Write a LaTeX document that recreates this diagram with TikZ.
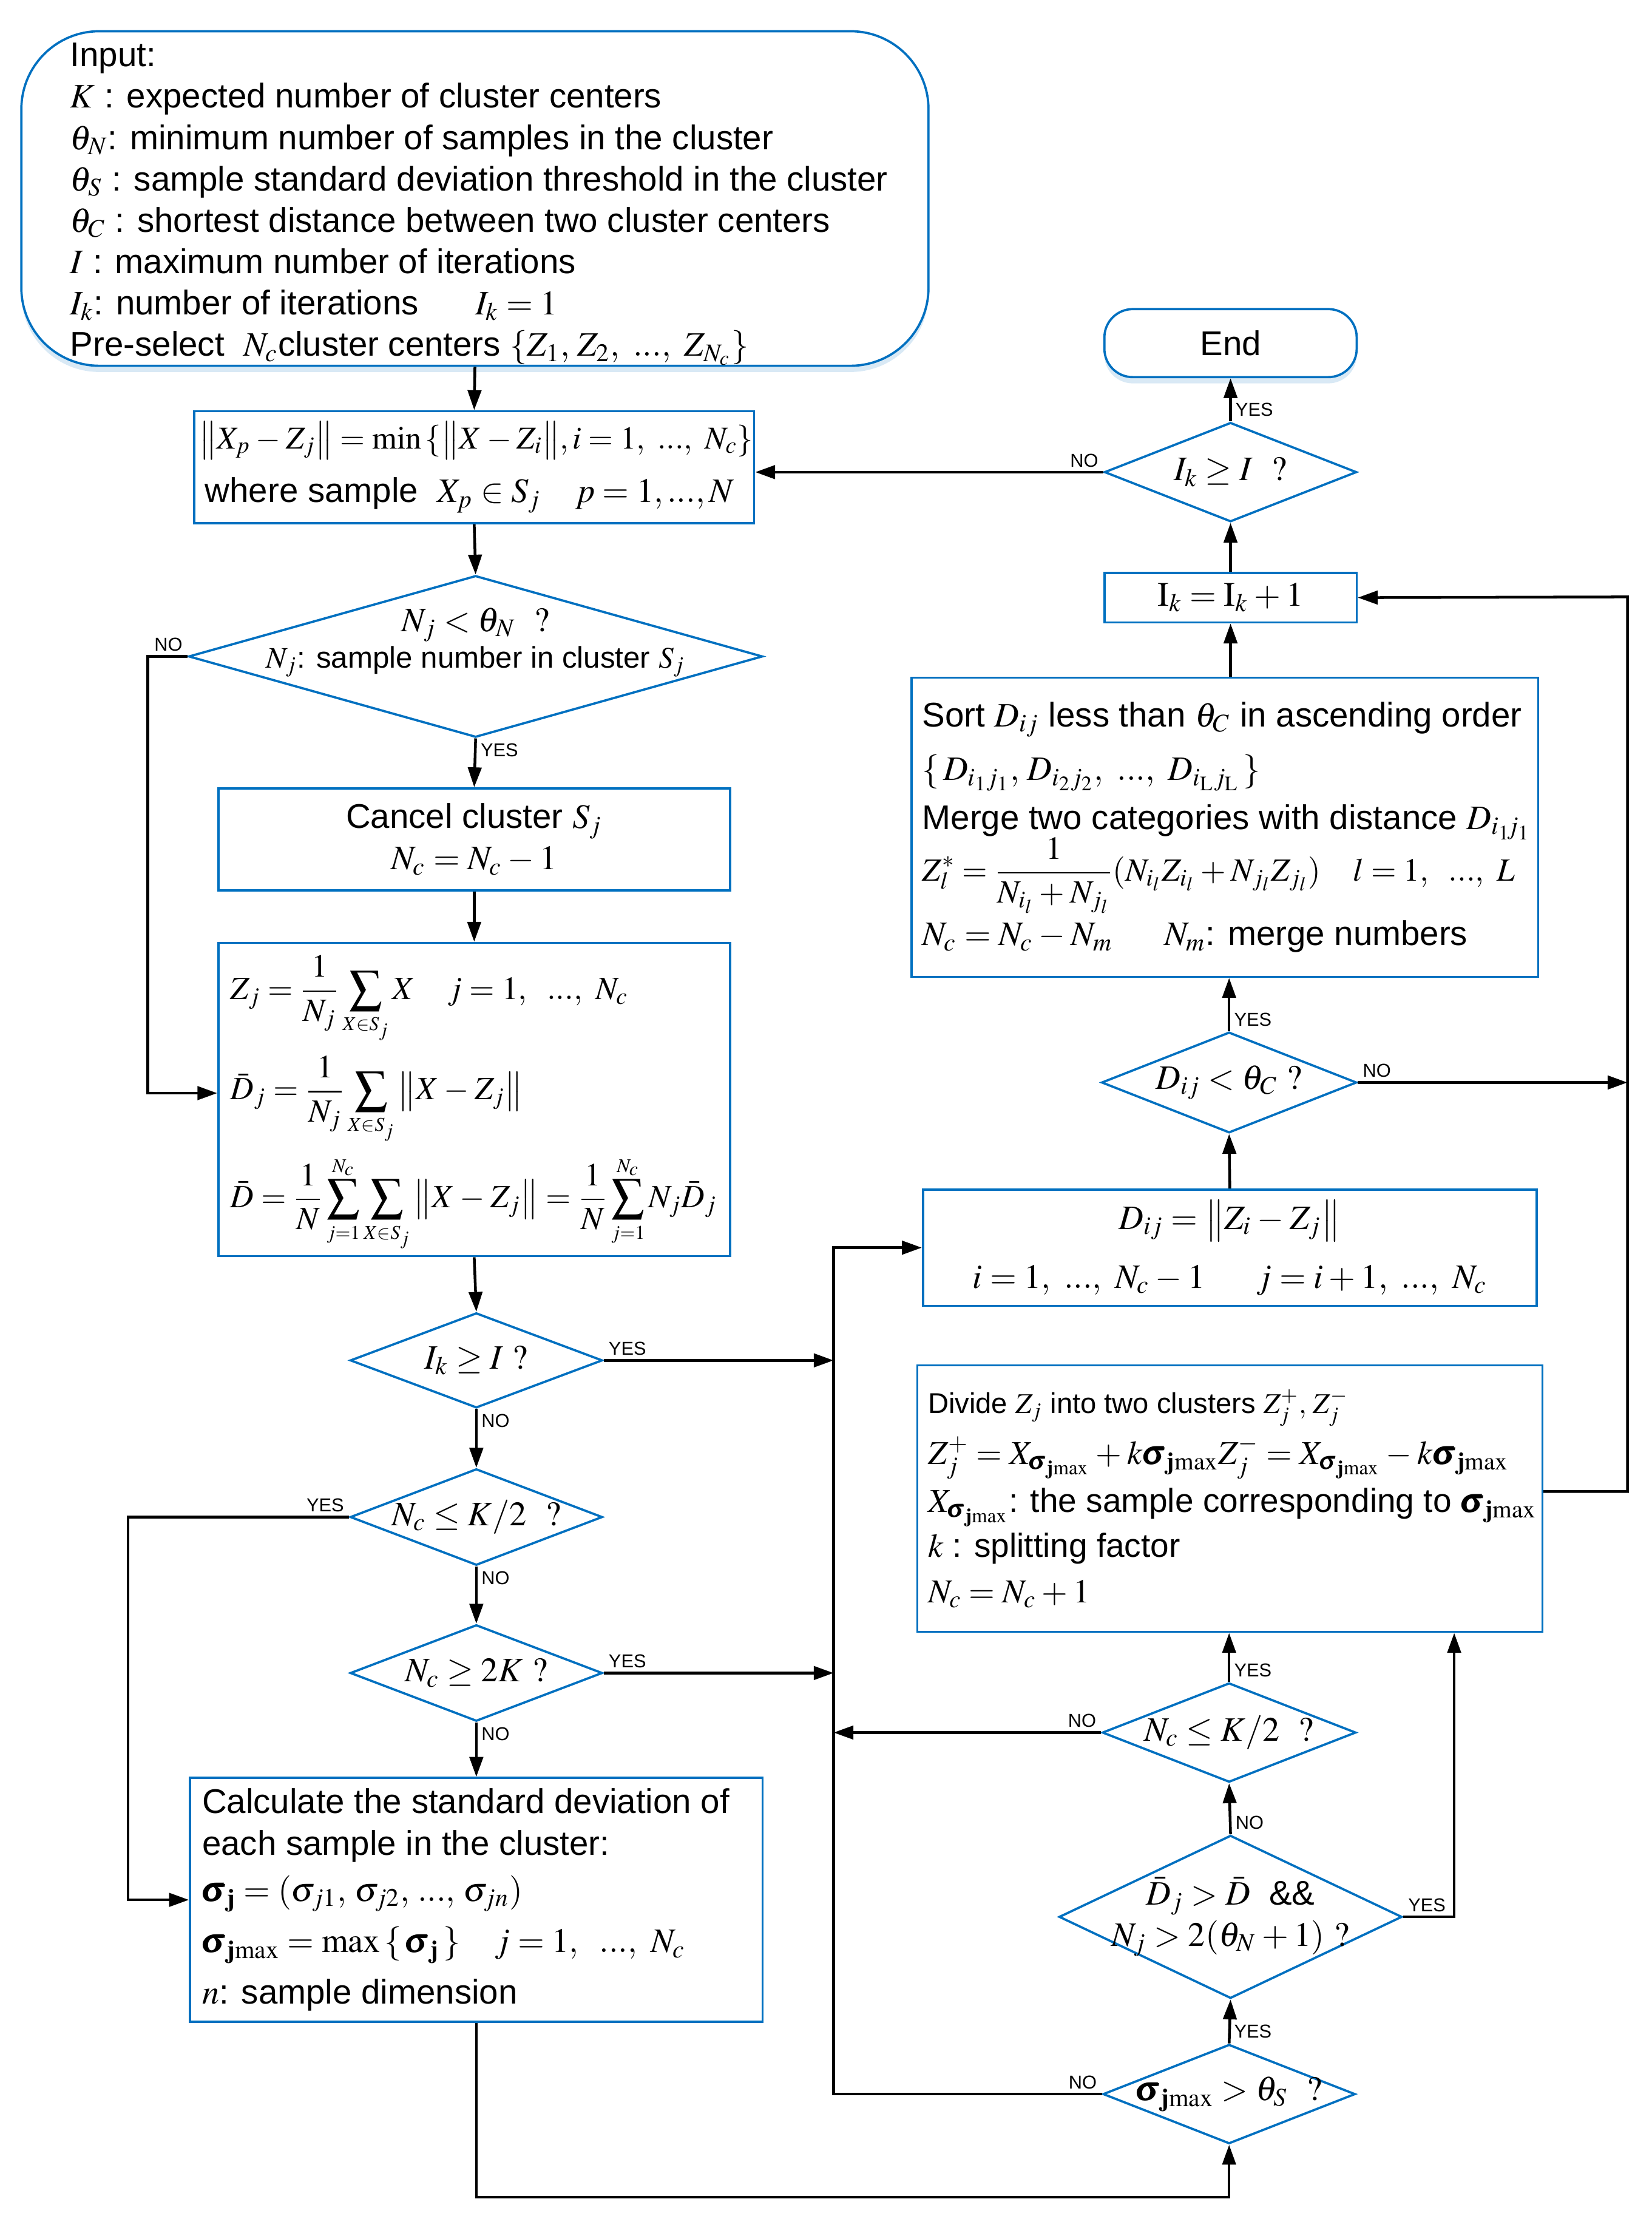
\documentclass[tikz,border=0pt]{standalone}
\usepackage{amsmath}
\usepackage{amsfonts, amssymb}
\usepackage{mathptmx}
\usepackage[no-math]{fontspec}
\setmainfont{Liberation Sans}
\usepackage{tikz}
\usetikzlibrary{shapes.geometric, arrows.meta, shadows}
\definecolor{flowblue}{RGB}{0,112,192}
\newcommand{\sgj}{\pmb{\sigma}_{\mathbf{j}}}
\newcommand{\sgjmax}{\pmb{\sigma}_{\mathbf{j}\mathrm{max}}}
\thickmuskip=4mu plus 3mu minus 1mu
\medmuskip=3mu plus 1mu minus 2mu

\begin{document}
\begin{tikzpicture}[x=0.02cm, y=-0.02cm,
    font=\fontsize{13.75}{16.6}\selectfont,
    box/.style={draw=flowblue, line width=0.9pt, inner sep=0pt},
    txt/.style={align=left, anchor=west, inner sep=0pt},
    glow/.style={drop shadow={shadow xshift=0pt, shadow yshift=-2.5pt, opacity=0.25, fill=flowblue!60}},
    decide/.style={diamond, draw=flowblue, line width=0.9pt, inner sep=0pt},
    arr/.style={-{Triangle[length=0.28cm,width=0.19cm]}, line width=1.1pt},
    lbl/.style={font=\fontsize{7.5}{9}\selectfont, inner sep=1.5pt}]
    \useasboundingbox (0,0) rectangle (1165,1563);

    % 左列
    \node[box, glow, fill=white, rounded corners=1.1cm, minimum width=12.8cm, minimum height=4.72cm,
        label={[txt, xshift=0.7cm, yshift=-0.08cm]west:{Input:\\
         $K$ : expected number of cluster centers\\
         $\theta_N$: minimum number of samples in the cluster\\
         $\theta_S$ : sample standard deviation threshold in the cluster\\
         $\theta_C$ : shortest distance between two cluster centers\\
         $I$ : maximum number of iterations\\
         $I_k$: number of iterations\hspace{0.8cm}$I_k=1$\\
         Pre-select \ $N_c$cluster centers $\{Z_1,\,Z_2,\ ...,\ Z_{N_c}\}$}}] (input) at (335,140) {};
    \node[box, minimum width=7.9cm, minimum height=1.58cm,
        label={[txt, xshift=0.08cm]west:{{\fontsize{12.8}{15}\selectfont$\big\|X_p-Z_j\big\|=\mathrm{min}\,\{\big\|X-Z_i\big\|,i=1,\ ...,\ N_c\}$}\\[5pt]
         \,where sample \ $X_p\in S_j\quad p=1,...,N$}}] (assign) at (334.5,329.5) {};
    \node[decide, minimum width=8.1cm, minimum height=2.28cm,
        label={[align=center, yshift=0.2cm]center:{$N_j<\theta_N$ \ $?$\\[-2pt]{\fontsize{12}{14}\selectfont$N_j$: sample number in cluster $S_j$}}}] (d1) at (335.5,463) {};
    \node[box, minimum width=7.22cm, minimum height=1.44cm, align=center] (cancel) at (334.5,592)
        {Cancel cluster $S_j$\\ $N_c=N_c-1$};
    \node[box, minimum width=7.22cm, minimum height=4.42cm,
        label={[txt, xshift=0.18cm, yshift=-0.06cm, font=\fontsize{13}{15.6}\selectfont]west:{$Z_j=\dfrac{1}{N_j}\displaystyle\sum_{\scriptscriptstyle X\in S_j}X\quad j=1,\enskip ...,\ N_c$\\[4pt]
         $\bar{D}_j=\dfrac{1}{N_j}\displaystyle\sum_{\scriptscriptstyle X\in S_j}\big\|X-Z_j\big\|$\\[4pt]
         $\displaystyle\bar{D}=\frac{1}{N}\sum_{\scriptscriptstyle j=1}^{\scriptscriptstyle N_c}\sum_{\scriptscriptstyle X\in S_j}\big\|X-Z_j\big\|=\frac{1}{N}\sum_{\scriptscriptstyle j=1}^{\scriptscriptstyle N_c}N_j\bar{D}_j$}}] (update) at (334.5,775.5) {};
    \node[decide, minimum width=3.56cm, minimum height=1.34cm, label=center:{$I_k\ge I$ $?$}] (d2) at (336,959.5) {};
    \node[decide, minimum width=3.56cm, minimum height=1.36cm, label=center:{$N_c\le K/2$ \ $?$}] (d3) at (336,1070) {};
    \node[decide, minimum width=3.56cm, minimum height=1.36cm, label=center:{$N_c\ge 2K$ $?$}] (d4) at (336,1180) {};
    \node[box, minimum width=8.08cm, minimum height=3.44cm,
        label={[txt, xshift=0.18cm]west:{Calculate the standard deviation of\\
         each sample in the cluster:\\[2pt]
         $\sgj=(\sigma_{j1},\,\sigma_{j2},\,...,\,\sigma_{jn})$\\[4pt]
         $\sgjmax=\max\,\{\,\sgj\,\}\quad j=1,\enskip ...,\ N_c$\\[4pt]
         $n$: sample dimension}}] (stdev) at (336,1340) {};

    % 右列
    \node[box, glow, fill=white, rounded corners=0.4cm, minimum width=3.56cm, minimum height=0.96cm] (end) at (868,242) {End};
    \node[decide, minimum width=3.56cm, minimum height=1.4cm, label=center:{$I_k\ge I$ \ $?$}] (r1) at (868,333) {};
    \node[box, minimum width=3.56cm, minimum height=0.7cm] (iter) at (868,421.5) {$\mathrm{I}_k=\mathrm{I}_k+1$};
    \node[box, minimum width=8.84cm, minimum height=4.22cm,
        label={[txt, xshift=0.16cm]west:{Sort $D_{ij}$ less than $\theta_C$ in ascending order\\[5pt]
         $\{\,D_{i_1j_1},\,D_{i_2j_2},\ ...,\ D_{i_\mathrm{L}j_\mathrm{L}}\,\}$\\[3pt]
         Merge two categories with distance $D_{i_1\!j_1}$\\[-2pt]
         {\fontsize{13}{15.6}\selectfont$\displaystyle Z_l^*=\frac{1}{N_{i_l}+N_{j_l}}(N_{i_l}Z_{i_l}+N_{j_l}Z_{j_l})\quad l=1,\enskip ...,\ L$}\\[2pt]
         $N_c=N_c-N_m\quad\enskip N_m$: merge numbers}}] (merge) at (864,583.5) {};
    \node[decide, minimum width=3.6cm, minimum height=1.42cm, label=center:{$D_{ij}<\theta_C$ $?$}] (r2) at (867,763.5) {};
    \node[box, minimum width=8.66cm, minimum height=1.64cm, align=center] (dist) at (867.5,880)
        {$D_{ij}=\big\|Z_i-Z_j\big\|$\\[7pt]
         $i=1,\ ...,\ N_c-1\quad\enskip j=i+1,\ ...,\ N_c$};
    \node[box, minimum width=8.82cm, minimum height=3.76cm,
        label={[txt, xshift=0.16cm, font=\fontsize{13.4}{16.2}\selectfont]west:{{\fontsize{11.5}{14}\selectfont Divide $Z_j$ into two clusters $Z_j^+,\,Z_j^-$}\\[3pt]
         $Z_j^+=X_{\sgjmax}+k\sgjmax Z_j^-=X_{\sgjmax}-k\sgjmax$\\[3pt]
         $X_{\sgjmax}$: the sample corresponding to $\sgjmax$\\[2pt]
         $k$ : splitting factor\\[2pt]
         $N_c=N_c+1$}}] (split) at (867.5,1057) {};
    \node[decide, minimum width=3.58cm, minimum height=1.4cm, label=center:{$N_c\le K/2$ \ $?$}] (r3) at (867,1222) {};
    \node[decide, minimum width=4.84cm, minimum height=2.3cm,
        label={[align=center]center:{$\bar{D}_j>\bar{D}$ \ \&\&\\ $N_j>2(\theta_N+1)$ $?$}}] (r4) at (868,1352) {};
    \node[decide, minimum width=3.56cm, minimum height=1.4cm, label=center:{$\sgjmax>\theta_S$ \ $?$}] (r5) at (867,1477) {};

    \coordinate (busL) at (588,880); % 左侧汇线
    \coordinate (busR) at (1148,421); % 右侧汇线

    % 左列连线
    \draw[arr] (input.south) -- (assign.north);
    \draw[arr] (assign.south) -- (d1.north);
    \draw[arr] (d1.south) node[lbl, below right] {YES} -- (cancel.north);
    \draw[arr] (d1.west) node[lbl, above left] {NO} -- ++(-28,0) |- ([yshift=0.09cm]update.west);
    \draw[arr] (cancel.south) -- (update.north);
    \draw[arr] (update.south) -- (d2.north);
    \draw[arr] (d2.east) node[lbl, above right] {YES} -- (d2.east -| busL);
    \draw[arr] (d2.south) node[lbl, below right] {NO} -- (d3.north);
    \draw[arr] (d3.west) node[lbl, above left] {YES} -- ++(-156,0) |- (stdev.west);
    \draw[arr] (d3.south) node[lbl, below right] {NO} -- (d4.north);
    \draw[arr] (d4.east) node[lbl, above right] {YES} -- (d4.east -| busL);
    \draw[arr] (d4.south) node[lbl, below right] {NO} -- (stdev.north);
    \draw[arr] (stdev.south) -- ++(0,123) -| (r5.south);

    % 右列连线
    \draw[arr] (r5.west) node[lbl, above left] {NO} -- (r5.west -| busL) -- (busL) -- (dist.west);
    \draw[arr] (r5.north) node[lbl, above right] {YES} -- (r4.south);
    \draw[arr] (r4.north) node[lbl, above right] {NO} -- (r3.south);
    \draw[arr] (r4.east) node[lbl, above right] {YES} -- ++(36,0) coordinate (r4e) -- (r4e |- split.south);
    \draw[arr] (r3.north) node[lbl, above right] {YES} -- (r3.south |- split.south);
    \draw[arr] (r3.west) node[lbl, above left] {NO} -- (r3.west -| busL);
    \draw[arr] ([yshift=0.1cm]split.east) -| (busR) -- (iter.east);
    \draw[arr] (dist.north) -- (r2.south);
    \draw[arr] (r2.east) node[lbl, above right] {NO} -- (r2.east -| busR);
    \draw[arr] (r2.north) node[lbl, above right] {YES} -- (r2.north |- merge.south);
    \draw[arr] (iter.south |- merge.north) -- (iter.south);
    \draw[arr] (iter.north) -- (r1.south);
    \draw[arr] (r1.north) node[lbl, above right] {YES} -- (end.south);
    \draw[arr] (r1.west) node[lbl, above left] {NO} -- (r1.west -| assign.east);
\end{tikzpicture}
\end{document}
